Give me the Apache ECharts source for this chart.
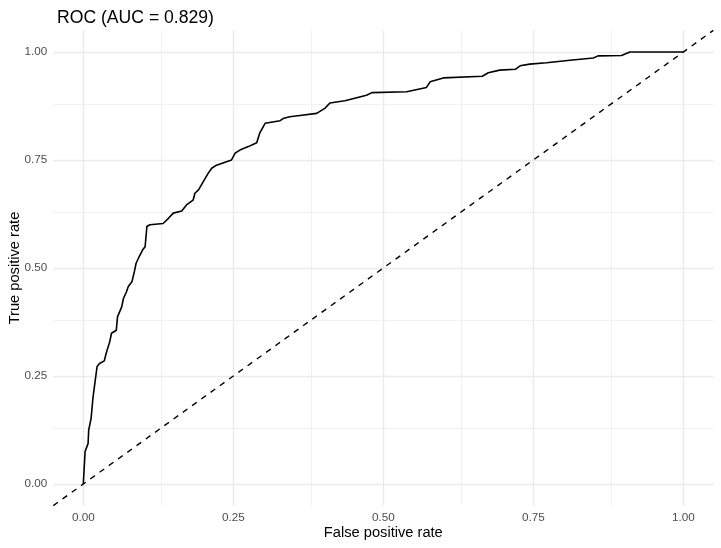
<!DOCTYPE html>
<html>
<head>
<meta charset="utf-8">
<script src="https://cdn.jsdelivr.net/npm/echarts@6/dist/echarts.min.js"></script>
<style>
html,body{margin:0;padding:0;background:#fff;}
#chart{width:721px;height:548px;}
</style>
</head>
<body>
<div id="chart"></div>
<script>
// ROC curve points
const fpr = [0,0.003,0.008,0.009,0.013,0.016,0.020,0.023,0.027,0.035,0.038,0.044,0.047,0.055,0.057,0.064,0.067,0.072,0.075,0.081,0.085,0.088,0.093,0.099,0.103,0.106,0.111,0.133,0.142,0.150,0.164,0.172,0.183,0.186,0.192,0.200,0.208,0.214,0.222,0.247,0.253,0.261,0.275,0.289,0.294,0.303,0.306,0.328,0.333,0.344,0.361,0.389,0.403,0.411,0.436,0.472,0.481,0.539,0.572,0.578,0.600,0.665,0.675,0.694,0.720,0.728,0.744,0.772,0.811,0.850,0.858,0.897,0.911,1.000];
const tpr = [0,0.075,0.094,0.125,0.152,0.198,0.241,0.272,0.279,0.285,0.302,0.329,0.349,0.356,0.387,0.410,0.430,0.445,0.457,0.468,0.491,0.511,0.526,0.542,0.549,0.596,0.600,0.603,0.615,0.627,0.632,0.646,0.657,0.673,0.681,0.700,0.719,0.731,0.738,0.750,0.766,0.773,0.781,0.790,0.812,0.835,0.839,0.841,0.846,0.850,0.853,0.858,0.870,0.882,0.887,0.900,0.906,0.908,0.918,0.931,0.940,0.944,0.952,0.958,0.960,0.968,0.972,0.975,0.981,0.986,0.991,0.992,1.000,1.000];
const diagX = [-0.05, 1.05];
const diagY = [-0.05, 1.05];
const xTicks = [0, 0.25, 0.5, 0.75, 1];
const yTicks = [0, 0.25, 0.5, 0.75, 1];
const xMinor = [0.125, 0.375, 0.625, 0.875];
const yMinor = [0.125, 0.375, 0.625, 0.875];
const titleText = 'ROC (AUC = 0.829)';
const xName = 'False positive rate';
const yName = 'True positive rate';

const FONT = '"Liberation Sans", Arial, Helvetica, sans-serif';
const gridColor = '#EBEBEB';
const majorW = 1.4, minorW = 0.7;

const gridLines = [];
xMinor.forEach(v => gridLines.push({xAxis: v, lineStyle: {color: gridColor, width: minorW, type: 'solid'}}));
yMinor.forEach(v => gridLines.push({yAxis: v, lineStyle: {color: gridColor, width: minorW, type: 'solid'}}));
xTicks.forEach(v => gridLines.push({xAxis: v, lineStyle: {color: gridColor, width: majorW, type: 'solid'}}));
yTicks.forEach(v => gridLines.push({yAxis: v, lineStyle: {color: gridColor, width: majorW, type: 'solid'}}));

const chart = echarts.init(document.getElementById('chart'), null, {renderer: 'canvas'});
chart.setOption({
  animation: false,
  backgroundColor: '#ffffff',
  title: {
    text: titleText,
    left: 52,
    top: 4,
    textStyle: {fontFamily: FONT, fontSize: 17.6, fontWeight: 'normal', color: '#000000'}
  },
  grid: {left: 53.3, right: 7.7, top: 30.4, bottom: 42.4, containLabel: false, outerBoundsMode: 'none'},
  xAxis: {
    type: 'value',
    min: -0.05, max: 1.05,
    name: xName,
    nameLocation: 'middle',
    nameGap: 20,
    nameMoveOverlap: false,
    nameTextStyle: {fontFamily: FONT, fontSize: 14.67, color: '#000000'},
    axisLine: {show: false},
    axisTick: {show: false},
    splitLine: {show: false},
    axisLabel: {
      customValues: xTicks,
      formatter: v => v.toFixed(2),
      margin: 6,
      fontFamily: FONT, fontSize: 11.7, color: '#4D4D4D'
    }
  },
  yAxis: {
    type: 'value',
    min: -0.05, max: 1.05,
    name: yName,
    nameLocation: 'middle',
    nameGap: 31,
    nameMoveOverlap: false,
    nameTextStyle: {fontFamily: FONT, fontSize: 14.67, color: '#000000'},
    axisLine: {show: false},
    axisTick: {show: false},
    splitLine: {show: false},
    axisLabel: {
      customValues: yTicks,
      formatter: v => v.toFixed(2),
      margin: 6,
      fontFamily: FONT, fontSize: 11.7, color: '#4D4D4D'
    }
  },
  series: [
    {
      type: 'line',
      data: [],
      z: 1,
      silent: true,
      markLine: {
        silent: true,
        animation: false,
        z: 1,
        symbol: ['none', 'none'],
        label: {show: false},
        emphasis: {disabled: true},
        data: gridLines
      }
    },
    {
      type: 'line',
      data: diagX.map((x, i) => [x, diagY[i]]),
      showSymbol: false,
      z: 10,
      silent: true,
      lineStyle: {color: '#000000', width: 1.4, type: [5.7, 5.7]}
    },
    {
      type: 'line',
      data: fpr.map((x, i) => [x, tpr[i]]),
      showSymbol: false,
      z: 11,
      silent: true,
      lineStyle: {color: '#000000', width: 1.6, join: 'round'}
    }
  ]
});
</script>
</body>
</html>
